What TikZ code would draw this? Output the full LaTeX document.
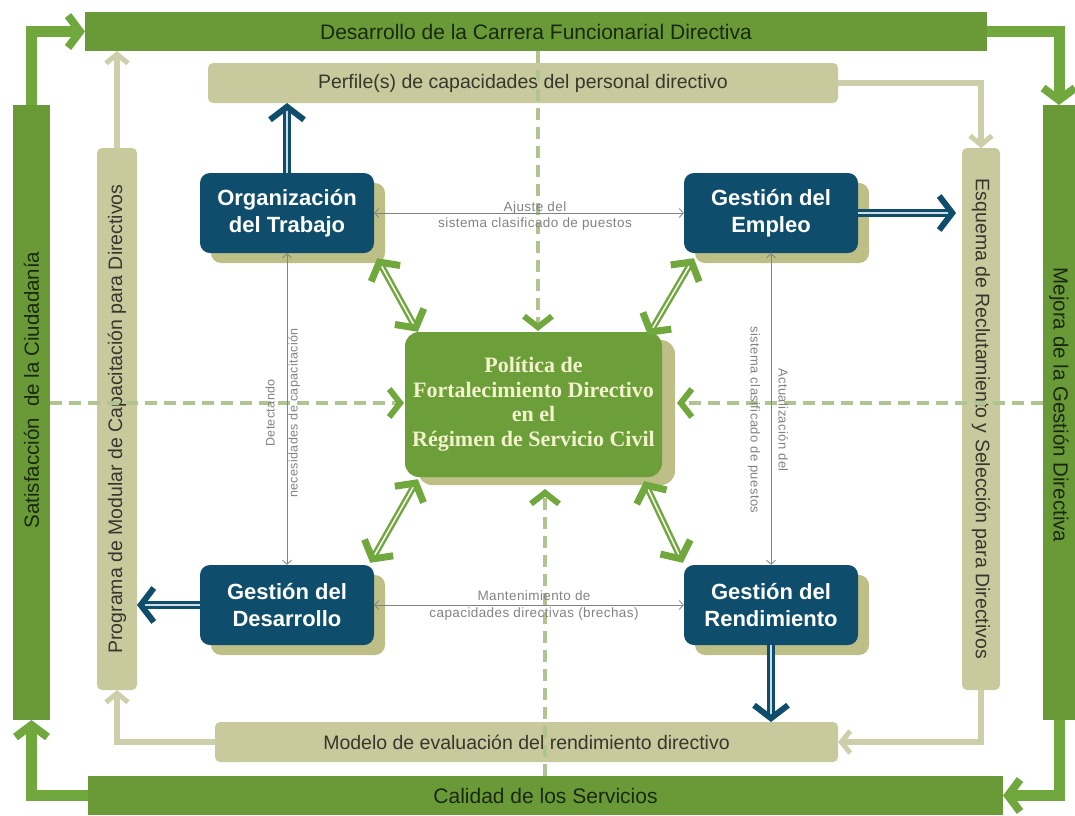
\documentclass[tikz,border=0pt]{standalone}
\usepackage{fontspec}
\setmainfont{Liberation Sans}
\newfontfamily\polfont{Liberation Serif}
\newfontfamily\grayfont{Liberation Sans}[LetterSpace=3]
\usetikzlibrary{arrows.meta,shadows,calc}
\definecolor{bargreen}{RGB}{106,154,56}
\definecolor{argreen}{RGB}{112,168,62}
\definecolor{olive}{RGB}{200,201,156}
\definecolor{oliveline}{RGB}{205,206,170}
\definecolor{shadowol}{RGB}{190,190,135}
\definecolor{navy}{RGB}{14,78,108}
\definecolor{cgreen}{RGB}{108,158,58}
\definecolor{cream}{RGB}{242,242,205}
\definecolor{dashg}{RGB}{175,196,145}
\definecolor{grayl}{RGB}{130,130,130}
\definecolor{bartext}{RGB}{25,40,15}
\definecolor{oltext}{RGB}{55,55,45}
\begin{document}
\begin{tikzpicture}[x=1pt,y=-1pt,
  bar/.style={fill=bargreen, inner sep=0pt, outer sep=0pt, text=bartext, font=\fontsize{21}{24}\selectfont},
  bartxt/.style={text=bartext, font=\fontsize{20.5}{24}\selectfont, inner sep=0pt},
  olbox/.style={fill=olive, rounded corners=5pt, inner sep=0pt, outer sep=0pt, text=oltext, font=\fontsize{19.5}{22}\selectfont},
  oltxt/.style={text=oltext, font=\fontsize{19.5}{22}\selectfont, inner sep=0pt},
  bluebox/.style={fill=navy, rounded corners=10pt, minimum width=174pt, minimum height=80pt, inner sep=0pt, text=white, font=\bfseries\fontsize{22}{27}\selectfont, align=center, general shadow={fill=shadowol, shadow xshift=11pt, shadow yshift=-10pt}},
  polbox/.style={fill=cgreen, rounded corners=14pt, minimum width=257pt, minimum height=145pt, inner sep=0pt, text=cream, font=\polfont\bfseries\fontsize{22}{24.5}\selectfont, align=center, general shadow={fill=shadowol, shadow xshift=13pt, shadow yshift=-8pt}},
  cornerarrow/.style={draw=argreen, line width=11pt, -{Straight Barb[length=12pt,width=32pt,line width=8pt]}},
  olarrow/.style={draw=oliveline, line width=6pt, -{Straight Barb[length=9pt,width=22pt,line width=5pt]}},
  bluearrow/.style={draw=navy, line width=3pt, double=white!80!navy, double distance=1.5pt, -{Straight Barb[length=13pt,width=34pt,line width=6pt]}},
  greendbl/.style={draw=argreen, line width=2.5pt, double=white, double distance=1.5pt, {Straight Barb[length=13pt,width=33pt,line width=7pt]}-{Straight Barb[length=13pt,width=33pt,line width=7pt]}},
  dasharrow/.style={draw=dashg, line width=4.5pt, dash pattern=on 12pt off 7pt, -{Straight Barb[length=11pt,width=28pt,line width=6pt,color=argreen]}},
  grayarrow/.style={draw=grayl, line width=0.8pt, {Straight Barb[length=4pt,width=9pt]}-{Straight Barb[length=4pt,width=9pt]}},
  graylab/.style={text=grayl, font=\grayfont\fontsize{13.5}{17}\selectfont, align=center, inner sep=0pt}
]
\useasboundingbox (0,0) rectangle (1075,815);
% outer bars
\node[bar, minimum width=902pt, minimum height=39pt] (carrera) at (536,31.5) {Desarrollo de la Carrera Funcionarial Directiva};
\node[bar, minimum width=37pt, minimum height=615pt] (satis) at (31.5,412.5) {};
\node[bartxt, rotate=90] at (31.5,390) {Satisfacción~ de la Ciudadanía};
\node[bar, minimum width=32pt, minimum height=615pt] (mejora) at (1059,412.5) {};
\node[bartxt, rotate=-90] at (1059,405) {Mejora de la Gestión Directiva};
\node[bar, minimum width=915pt, minimum height=39pt] (calidad) at (545.5,795.5) {Calidad de los Servicios};
% corner arrows
\draw[cornerarrow] (satis.north) |- (carrera.west);
\draw[cornerarrow] (carrera.east) -| (mejora.north);
\draw[cornerarrow] (mejora.south) |- (calidad.east);
\draw[cornerarrow] (calidad.west) -| (satis.south);
% olive boxes
\node[olbox, minimum width=630pt, minimum height=40pt] (perfil) at (523,83) {Perfile(s) de capacidades del personal directivo};
\node[olbox, minimum width=40pt, minimum height=542pt] (prog) at (117,419) {};
\node[oltxt, rotate=90] at (117,419) {Programa de Modular de Capacitación para Directivos};
\node[olbox, minimum width=38pt, minimum height=542pt] (esq) at (981,419) {};
\node[oltxt, rotate=-90] at (981,419) {Esquema de Reclutamiento y Selección para Directivos};
\node[olbox, minimum width=623pt, minimum height=40pt] (modelo) at (526.5,742) {Modelo de evaluación del rendimiento directivo};
% olive connectors
\draw[olarrow] (prog.north) -- (prog.north |- carrera.south);
\draw[olarrow] (perfil.east) -| (esq.north);
\draw[olarrow] (esq.south) |- (modelo.east);
\draw[olarrow] (modelo.west) -| (prog.south);
% dashed connectors
\coordinate (vt) at (538,51);
\coordinate (vtend) at (538,331);
\coordinate (vb) at (545,776);
\coordinate (vbend) at (545,489);
\coordinate (hl) at (50,403);
\coordinate (hlend) at (404,403);
\coordinate (hr) at (1043,403);
\coordinate (hrend) at (677,403);
\draw[dasharrow] (vt) -- (vtend);
\draw[dasharrow] (vb) -- (vbend);
\draw[dasharrow] (hl) -- (hlend);
\draw[dasharrow] (hr) -- (hrend);
% blue boxes and central box
\node[bluebox] (org) at (287,213) {Organización\\del Trabajo};
\node[bluebox] (empleo) at (771,213) {Gestión del\\Empleo};
\node[bluebox] (gdes) at (287,605) {Gestión del\\Desarrollo};
\node[bluebox] (rend) at (771,605) {Gestión del\\Rendimiento};
\node[polbox] (pol) at (533.5,404.5) {Política de\\Fortalecimiento Directivo\\en el\\Régimen de Servicio Civil};
% gray connectors
\draw[grayarrow] (org.east) -- (empleo.west);
\draw[grayarrow] (gdes.east) -- (rend.west);
\draw[grayarrow] (org.south) -- (gdes.north);
\draw[grayarrow] (empleo.south) -- (rend.north);
\node[graylab] at (535,216) {Ajuste del\\sistema clasificado de puestos};
\node[graylab] at (534,605) {Mantenimiento de\\capacidades directivas (brechas)};
\node[graylab, rotate=90, font=\grayfont\fontsize{12.5}{23}\selectfont] at (283,413) {Detectando\\necesidades de capacitación};
\node[graylab, rotate=-90, font=\grayfont\fontsize{13}{28}\selectfont] at (768,420) {Actualización del\\sistema clasificado de puestos};
% blue arrows
\draw[bluearrow] (org.north) -- (org.north |- perfil.south);
\draw[bluearrow, shorten >=6pt] (empleo.east) -- (empleo.east -| esq.west);
\draw[bluearrow] (gdes.west) -- (gdes.west -| prog.east);
\draw[bluearrow] (rend.south) -- (rend.south |- modelo.north);
% green double arrows
\draw[greendbl] ([shift={(3,5)}]org.south east) -- ([shift={(13,0)}]pol.north west);
\draw[greendbl] ([shift={(10,5)}]empleo.south west) -- ([shift={(-14,4)}]pol.north east);
\draw[greendbl] ([shift={(-4,-2)}]gdes.north east) -- ([shift={(13,2)}]pol.south west);
\draw[greendbl] ([shift={(-1,-2)}]rend.north west) -- ([shift={(-18,4)}]pol.south east);
\end{tikzpicture}
\end{document}
